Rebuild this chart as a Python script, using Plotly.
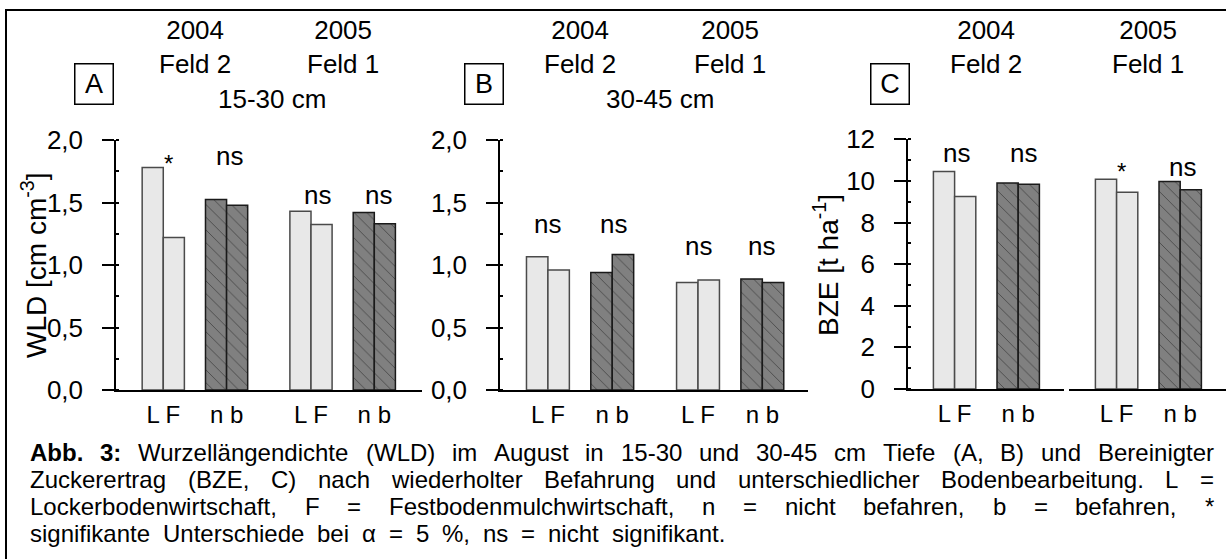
import plotly.graph_objects as go

# ---------------- data ----------------
categories = ["L", "F", "n", "b"]
year_labels = ["2004<br>Feld 2", "2005<br>Feld 1"]
depth_labels = ["15-30 cm", "30-45 cm"]

wld_15_30_2004 = [1.78, 1.22, 1.525, 1.478]
wld_15_30_2005 = [1.43, 1.325, 1.42, 1.33]
wld_30_45_2004 = [1.066, 0.96, 0.94, 1.085]
wld_30_45_2005 = [0.86, 0.88, 0.888, 0.86]
bze_2004 = [10.45, 9.25, 9.90, 9.84]
bze_2005 = [10.08, 9.46, 9.97, 9.58]

sig_A = ["*", "ns", "ns", "ns"]
sig_B = ["ns", "ns", "ns", "ns"]
sig_C = ["ns", "ns", "*", "ns"]

wld_ticks = [0, 0.5, 1.0, 1.5, 2.0]
wld_ticktext = ["0,0", "0,5", "1,0", "1,5", "2,0"]
bze_ticks = [0, 2, 4, 6, 8, 10, 12]
bze_ticktext = ["0", "2", "4", "6", "8", "10", "12"]

caption_lines = [
    "Abb. 3: Wurzellängendichte (WLD) im August in 15-30 und 30-45 cm Tiefe (A, B) und Bereinigter",
    "Zuckerertrag (BZE, C) nach wiederholter Befahrung und unterschiedlicher Bodenbearbeitung. L =",
    "Lockerbodenwirtschaft, F = Festbodenmulchwirtschaft, n = nicht befahren, b = befahren, *",
    "signifikante Unterschiede bei α = 5 %, ns = nicht signifikant.",
]

# ---------------- layout helpers ----------------
W, H = 1226, 559
FONT = "Liberation Sans"


def px(x):
    return x / W


def py(y):
    return 1 - y / H


LIGHT = "#e8e8e8"
LIGHT_LINE = "#4a4a4a"
DARK = "#808080"

fig = go.Figure()

# bar slot positions (in bar widths): L, F | n, b
slots_04 = [0, 1, 3, 4]
slots_05 = [7, 8, 10, 11]


def add_bars(xref, yref, xs, vals):
    fig.add_trace(go.Bar(
        x=xs[:2], y=vals[:2], width=1, xaxis=xref, yaxis=yref,
        marker=dict(color=LIGHT, line=dict(color=LIGHT_LINE, width=1.5)),
        showlegend=False, hoverinfo="skip"))
    fig.add_trace(go.Bar(
        x=xs[2:], y=vals[2:], width=1, xaxis=xref, yaxis=yref,
        marker=dict(color=DARK, line=dict(color="#1a1a1a", width=1.5),
                    pattern=dict(shape="\\", fgcolor="#111111", bgcolor=DARK,
                                 size=9, solidity=0.1, fillmode="overlay")),
        showlegend=False, hoverinfo="skip"))


add_bars("x", "y", slots_04, wld_15_30_2004)
add_bars("x", "y", slots_05, wld_15_30_2005)
add_bars("x2", "y2", slots_04, wld_30_45_2004)
add_bars("x2", "y2", slots_05, wld_30_45_2005)
add_bars("x3", "y3", slots_04, bze_2004)
add_bars("x4", "y3", slots_04, bze_2005)

fig.update_layout(barmode="overlay")

tickfont = dict(family=FONT, size=26, color="black")
xtickfont = dict(family=FONT, size=24, color="black")

xcommon = dict(showline=True, linecolor="black", linewidth=2, ticks="",
               showgrid=False, zeroline=False, tickfont=xtickfont,
               ticklabelstandoff=2, fixedrange=True, automargin=False)
ycommon = dict(showline=True, linecolor="black", linewidth=1.5, ticks="outside",
               ticklen=12, tickwidth=2, tickcolor="black", showgrid=False,
               zeroline=False, tickfont=tickfont, ticklabelstandoff=14,
               fixedrange=True, automargin=False)

lf_nb_4 = ["L F", "n b", "L F", "n b"]
fig.update_layout(
    xaxis=dict(domain=[px(116), px(422)], range=[-1.74, 12.76], anchor="y",
               tickvals=[0.5, 3.5, 7.5, 10.5], ticktext=lf_nb_4, **xcommon),
    yaxis=dict(domain=[py(390), py(140)], range=[0, 2], anchor="x",
               tickvals=wld_ticks, ticktext=wld_ticktext,
               minor=dict(dtick=0.25, ticks="inside", ticklen=3, tickcolor="black", tickwidth=1.5),
               **ycommon),
    xaxis2=dict(domain=[px(500), px(808)], range=[-1.735, 12.63], anchor="y2",
                tickvals=[0.5, 3.5, 7.5, 10.5], ticktext=lf_nb_4, **xcommon),
    yaxis2=dict(domain=[py(390), py(140)], range=[0, 2], anchor="x2",
                tickvals=wld_ticks, ticktext=wld_ticktext,
                minor=dict(dtick=0.25, ticks="inside", ticklen=3, tickcolor="black", tickwidth=1.5),
                **ycommon),
    xaxis3=dict(domain=[px(908), px(1064)], range=[-1.698, 5.66], anchor="y3",
                tickvals=[0.5, 3.5], ticktext=lf_nb_4[:2], **xcommon),
    xaxis4=dict(domain=[px(1069), 1.0], range=[-1.745, 5.66], anchor="y3",
                tickvals=[0.5, 3.5], ticktext=lf_nb_4[:2], **xcommon),
    yaxis3=dict(domain=[py(389), py(139.3)], range=[0, 12], anchor="x3",
                tickvals=bze_ticks, ticktext=bze_ticktext,
                minor=dict(dtick=1, ticks="inside", ticklen=3, tickcolor="black", tickwidth=1.5),
                **ycommon),
)

annots = []


def txt(text, x, y, xref="paper", yref="paper", size=26, weight="normal", **kw):
    d = dict(text=text, x=x, y=y, xref=xref, yref=yref, showarrow=False,
             font=dict(family=FONT, size=size, color="black", weight=weight),
             xanchor=kw.pop("xanchor", "center"), yanchor=kw.pop("yanchor", "middle"))
    d.update(kw)
    annots.append(d)


# year / field headers, centred over each group
HDR_Y = py(46.5)
for xr in ["x", "x2"]:
    txt(year_labels[0], 2.0, HDR_Y, xref=xr)
    txt(year_labels[1], 9.0, HDR_Y, xref=xr)
txt(year_labels[0], 2.0, HDR_Y, xref="x3")
txt(year_labels[1], 2.0, HDR_Y, xref="x4")

txt(depth_labels[0], px(272), py(99))
txt(depth_labels[1], px(660), py(99))

# panel letters in boxes
for letter, cx in [("A", 93.5), ("B", 484), ("C", 889.5)]:
    txt(letter, px(cx), py(84), size=27, bordercolor="black", borderwidth=1.5,
        borderpad=0, width=37, height=39)

# y axis titles
txt("WLD [cm cm<sup>-3</sup>]", px(34), py(266), size=28, textangle=-90)
txt("BZE [t ha<sup>-1</sup>]", px(826), py(265), size=28, textangle=-90)

# significance marks (x in slot units, y in data units)
sig_pos_A = [(0.73, 1.81), (3.66, 1.87), (7.83, 1.56), (10.68, 1.56)]
sig_pos_B = [(0.5, 1.33), (3.54, 1.33), (7.5, 1.155), (10.48, 1.155)]
sig_pos_C = [("x3", 0.61, 11.32), ("x3", 3.77, 11.32), ("x4", 0.71, 10.45), ("x4", 3.63, 10.68)]
for s, (x, y) in zip(sig_A, sig_pos_A):
    txt(s, x, y, xref="x", yref="y", size=26 if s == "ns" else 24)
for s, (x, y) in zip(sig_B, sig_pos_B):
    txt(s, x, y, xref="x2", yref="y2", size=26 if s == "ns" else 24)
for s, (xr, x, y) in zip(sig_C, sig_pos_C):
    txt(s, x, y, xref=xr, yref="y3", size=26 if s == "ns" else 24)

# ---------------- caption (justified, word by word) ----------------
REG = {" ": 278, "%": 889, "(": 333, ")": 333, "*": 389, ",": 278, "-": 333, ".": 278,
       ":": 278, "=": 584, "[": 278, "]": 278, "α": 578,
       "A": 667, "B": 667, "C": 722, "D": 722, "E": 667, "F": 611, "G": 778, "H": 722,
       "I": 278, "J": 500, "K": 667, "L": 556, "M": 833, "N": 722, "O": 778, "P": 667,
       "Q": 778, "R": 722, "S": 667, "T": 611, "U": 722, "V": 667, "W": 944, "X": 667,
       "Y": 667, "Z": 611,
       "a": 556, "b": 556, "c": 500, "d": 556, "e": 556, "f": 278, "g": 556, "h": 556,
       "i": 222, "j": 222, "k": 500, "l": 222, "m": 833, "n": 556, "o": 556, "p": 556,
       "q": 556, "r": 333, "s": 500, "t": 278, "u": 556, "v": 500, "w": 722, "x": 500,
       "y": 500, "z": 500, "ä": 556}
BOLD = {"A": 722, "b": 611, ".": 278, "3": 556, ":": 333}


def wwidth(word, size, bold=False):
    tot = 0
    for ch in word:
        if bold and ch in BOLD:
            tot += BOLD[ch]
        else:
            tot += REG.get(ch, 556)
    return tot * size / 1000.0


CAP_SIZE = 24
cap_left, cap_right = 29, 1213
line_y = [452, 479, 506, 533]
line_right = [cap_right, cap_right, cap_right, 724]
for i, line in enumerate(caption_lines):
    words = line.split(" ")
    bolds = [i == 0 and k < 2 for k in range(len(words))]
    widths = [wwidth(w, CAP_SIZE, b) for w, b in zip(words, bolds)]
    gap = (line_right[i] - cap_left - sum(widths)) / (len(words) - 1)
    xpos = cap_left
    for w, b, wd in zip(words, bolds, widths):
        txt(w, px(xpos), py(line_y[i]), size=CAP_SIZE, xanchor="left", borderpad=0,
            weight="bold" if b else "normal")
        xpos += wd + gap

fig.update_layout(annotations=annots)

# outer frame
fig.add_shape(type="rect", xref="paper", yref="paper", x0=px(6), x1=px(1240),
              y0=py(575), y1=py(10), line=dict(color="black", width=2))

fig.update_layout(width=W, height=H,
                  margin=dict(l=0, r=0, t=0, b=0, pad=0, autoexpand=False),
                  paper_bgcolor="white", plot_bgcolor="white", showlegend=False,
                  font=dict(family=FONT, color="black"))

fig.write_html("out.html")
